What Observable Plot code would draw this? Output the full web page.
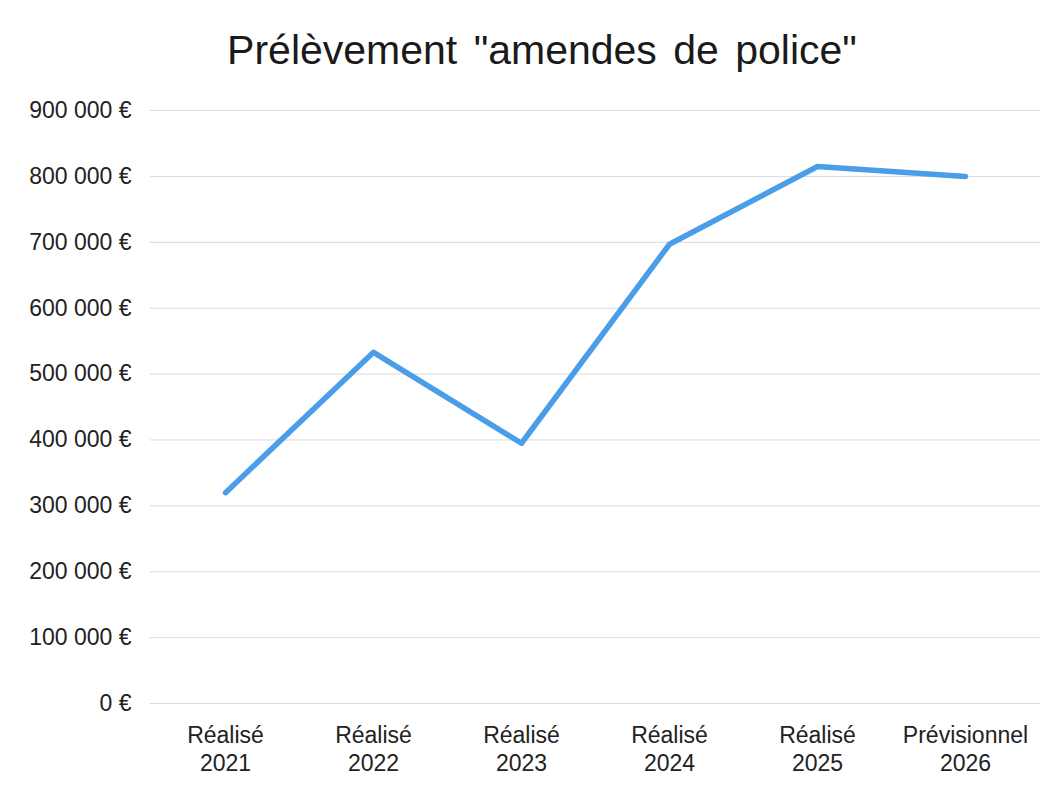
<!DOCTYPE html>
<html>
<head>
<meta charset="utf-8">
<script src="https://cdn.jsdelivr.net/npm/d3@7"></script>
<script src="https://cdn.jsdelivr.net/npm/@observablehq/plot@0.6"></script>
<style>
  body { margin: 0; background: #fff; font-family: "Liberation Sans", Arial, sans-serif; }
  #title { height: 95px; width: 1056px; box-sizing: border-box; padding-left: 28px; text-align: center;
           font-size: 41px; line-height: 1; padding-top: 30px; color: #1a1a1a; word-spacing: 5px; }
</style>
</head>
<body>
<div id="title">Prélèvement "amendes de police"</div>
<div id="chart"></div>
<script>
const categories = ["Réalisé\n2021", "Réalisé\n2022", "Réalisé\n2023", "Réalisé\n2024", "Réalisé\n2025", "Prévisionnel\n2026"];
const values = [320000, 533000, 395000, 697000, 815000, 800000];
const yTicks = [0, 100000, 200000, 300000, 400000, 500000, 600000, 700000, 800000, 900000];

const data = categories.map((c, i) => ({cat: c, value: values[i]}));
const fmt = v => d3.format(",")(v).replace(/,/g, " ") + " €";

const chart = Plot.plot({
  width: 1056,
  height: 690,
  marginTop: 15,
  marginBottom: 82,
  marginLeft: 150,
  marginRight: 16,
  style: {fontFamily: "'Liberation Sans', Arial, sans-serif", fontSize: "23px", color: "#222", background: "#fff"},
  x: {type: "point", domain: categories, padding: 0.5, label: null},
  y: {domain: [0, 900000], label: null},
  marks: [
    Plot.gridY(yTicks, {stroke: "#d9d9d9", strokeOpacity: 1, strokeWidth: 1}),
    Plot.axisY(yTicks, {tickSize: 0, tickPadding: 19, tickFormat: fmt, fontSize: 23, fill: "#222", label: null}),
    Plot.axisX({tickSize: 0, tickPadding: 20, fontSize: 23, lineHeight: 1.2, fill: "#222", label: null}),
    Plot.line(data, {x: "cat", y: "value", stroke: "#4a9de8", strokeWidth: 5.5, strokeLinecap: "round", strokeLinejoin: "round"})
  ]
});
document.getElementById("chart").appendChild(chart);
</script>
</body>
</html>
